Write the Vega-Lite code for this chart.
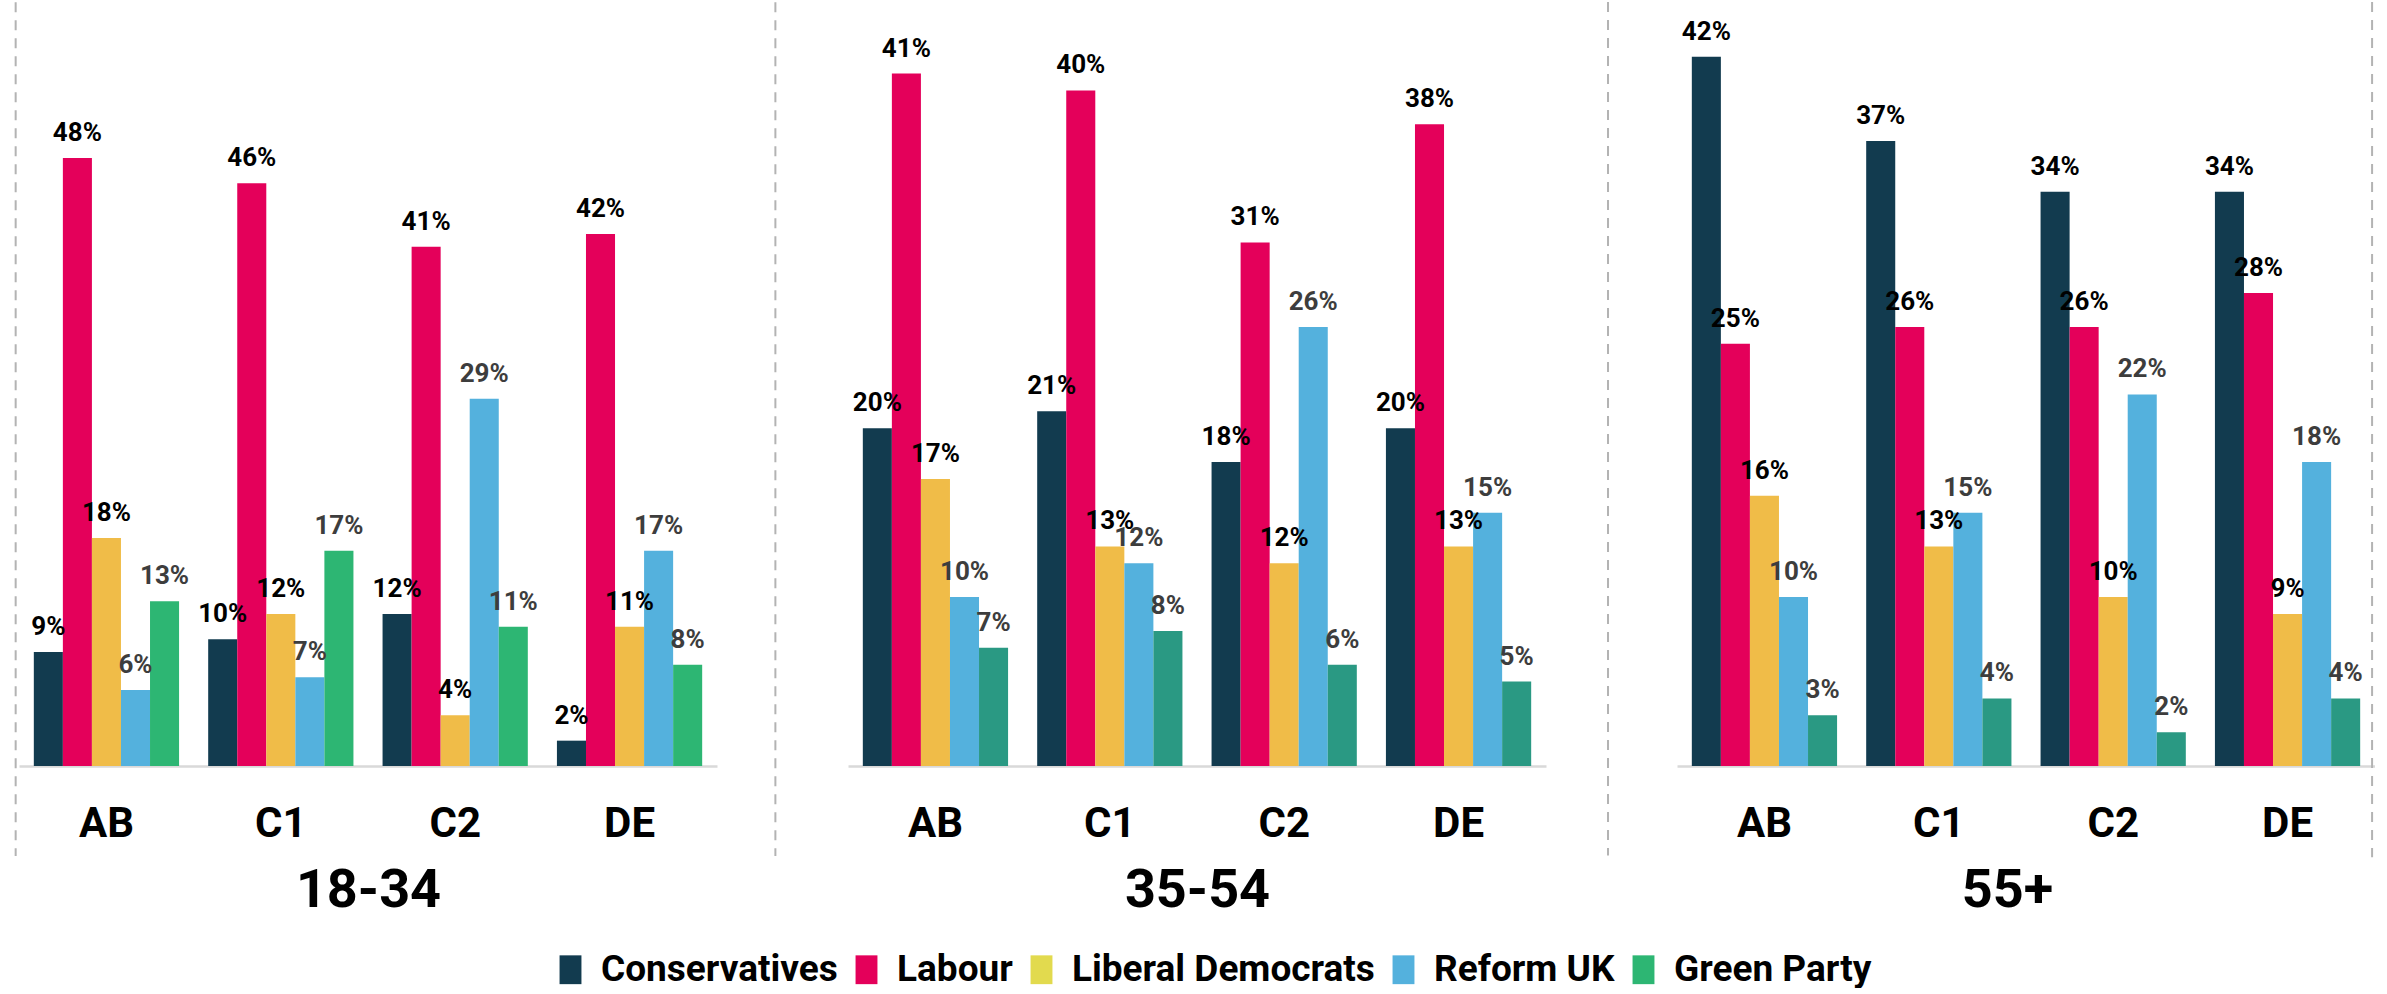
{
  "$schema": "https://vega.github.io/schema/vega-lite/v6.json",
  "background": "white",
  "padding": {"left": 14, "top": 0, "right": 0, "bottom": 0},
  "bounds": "flush",
  "datasets": {
    "polls": [
      {"Age": "18-34", "Class": "AB", "Party": "Conservatives", "Share": 0.09},
      {"Age": "18-34", "Class": "AB", "Party": "Labour", "Share": 0.48},
      {"Age": "18-34", "Class": "AB", "Party": "Liberal Democrats", "Share": 0.18},
      {"Age": "18-34", "Class": "AB", "Party": "Reform UK", "Share": 0.06},
      {"Age": "18-34", "Class": "AB", "Party": "Green Party", "Share": 0.13},
      {"Age": "18-34", "Class": "C1", "Party": "Conservatives", "Share": 0.10},
      {"Age": "18-34", "Class": "C1", "Party": "Labour", "Share": 0.46},
      {"Age": "18-34", "Class": "C1", "Party": "Liberal Democrats", "Share": 0.12},
      {"Age": "18-34", "Class": "C1", "Party": "Reform UK", "Share": 0.07},
      {"Age": "18-34", "Class": "C1", "Party": "Green Party", "Share": 0.17},
      {"Age": "18-34", "Class": "C2", "Party": "Conservatives", "Share": 0.12},
      {"Age": "18-34", "Class": "C2", "Party": "Labour", "Share": 0.41},
      {"Age": "18-34", "Class": "C2", "Party": "Liberal Democrats", "Share": 0.04},
      {"Age": "18-34", "Class": "C2", "Party": "Reform UK", "Share": 0.29},
      {"Age": "18-34", "Class": "C2", "Party": "Green Party", "Share": 0.11},
      {"Age": "18-34", "Class": "DE", "Party": "Conservatives", "Share": 0.02},
      {"Age": "18-34", "Class": "DE", "Party": "Labour", "Share": 0.42},
      {"Age": "18-34", "Class": "DE", "Party": "Liberal Democrats", "Share": 0.11},
      {"Age": "18-34", "Class": "DE", "Party": "Reform UK", "Share": 0.17},
      {"Age": "18-34", "Class": "DE", "Party": "Green Party", "Share": 0.08},
      {"Age": "35-54", "Class": "AB", "Party": "Conservatives", "Share": 0.20},
      {"Age": "35-54", "Class": "AB", "Party": "Labour", "Share": 0.41},
      {"Age": "35-54", "Class": "AB", "Party": "Liberal Democrats", "Share": 0.17},
      {"Age": "35-54", "Class": "AB", "Party": "Reform UK", "Share": 0.10},
      {"Age": "35-54", "Class": "AB", "Party": "Green Party", "Share": 0.07},
      {"Age": "35-54", "Class": "C1", "Party": "Conservatives", "Share": 0.21},
      {"Age": "35-54", "Class": "C1", "Party": "Labour", "Share": 0.40},
      {"Age": "35-54", "Class": "C1", "Party": "Liberal Democrats", "Share": 0.13},
      {"Age": "35-54", "Class": "C1", "Party": "Reform UK", "Share": 0.12},
      {"Age": "35-54", "Class": "C1", "Party": "Green Party", "Share": 0.08},
      {"Age": "35-54", "Class": "C2", "Party": "Conservatives", "Share": 0.18},
      {"Age": "35-54", "Class": "C2", "Party": "Labour", "Share": 0.31},
      {"Age": "35-54", "Class": "C2", "Party": "Liberal Democrats", "Share": 0.12},
      {"Age": "35-54", "Class": "C2", "Party": "Reform UK", "Share": 0.26},
      {"Age": "35-54", "Class": "C2", "Party": "Green Party", "Share": 0.06},
      {"Age": "35-54", "Class": "DE", "Party": "Conservatives", "Share": 0.20},
      {"Age": "35-54", "Class": "DE", "Party": "Labour", "Share": 0.38},
      {"Age": "35-54", "Class": "DE", "Party": "Liberal Democrats", "Share": 0.13},
      {"Age": "35-54", "Class": "DE", "Party": "Reform UK", "Share": 0.15},
      {"Age": "35-54", "Class": "DE", "Party": "Green Party", "Share": 0.05},
      {"Age": "55+", "Class": "AB", "Party": "Conservatives", "Share": 0.42},
      {"Age": "55+", "Class": "AB", "Party": "Labour", "Share": 0.25},
      {"Age": "55+", "Class": "AB", "Party": "Liberal Democrats", "Share": 0.16},
      {"Age": "55+", "Class": "AB", "Party": "Reform UK", "Share": 0.10},
      {"Age": "55+", "Class": "AB", "Party": "Green Party", "Share": 0.03},
      {"Age": "55+", "Class": "C1", "Party": "Conservatives", "Share": 0.37},
      {"Age": "55+", "Class": "C1", "Party": "Labour", "Share": 0.26},
      {"Age": "55+", "Class": "C1", "Party": "Liberal Democrats", "Share": 0.13},
      {"Age": "55+", "Class": "C1", "Party": "Reform UK", "Share": 0.15},
      {"Age": "55+", "Class": "C1", "Party": "Green Party", "Share": 0.04},
      {"Age": "55+", "Class": "C2", "Party": "Conservatives", "Share": 0.34},
      {"Age": "55+", "Class": "C2", "Party": "Labour", "Share": 0.26},
      {"Age": "55+", "Class": "C2", "Party": "Liberal Democrats", "Share": 0.10},
      {"Age": "55+", "Class": "C2", "Party": "Reform UK", "Share": 0.22},
      {"Age": "55+", "Class": "C2", "Party": "Green Party", "Share": 0.02},
      {"Age": "55+", "Class": "DE", "Party": "Conservatives", "Share": 0.34},
      {"Age": "55+", "Class": "DE", "Party": "Labour", "Share": 0.28},
      {"Age": "55+", "Class": "DE", "Party": "Liberal Democrats", "Share": 0.09},
      {"Age": "55+", "Class": "DE", "Party": "Reform UK", "Share": 0.18},
      {"Age": "55+", "Class": "DE", "Party": "Green Party", "Share": 0.04}
    ],
    "edges": [{"separator": 1}]
  },
  "data": {"name": "polls"},
  "spacing": 131,
  "hconcat": [
    {
      "width": 698,
      "height": 760,
      "transform": [{"filter": "datum.Age === '18-34'"}],
      "encoding": {
        "x": {"field": "Class", "type": "nominal", "sort": ["AB", "C1", "C2", "DE"], "title": "18-34",
              "scale": {"paddingInner": 0.167, "paddingOuter": 0.085}}
      },
      "layer": [
        {
          "mark": {"type": "bar"},
          "encoding": {
            "xOffset": {"field": "Party", "type": "nominal", "sort": ["Conservatives", "Labour", "Liberal Democrats", "Reform UK", "Green Party"], "scale": {"paddingInner": 0, "paddingOuter": 0}},
            "y": {"field": "Share", "type": "quantitative", "scale": {"domain": [0, 0.6], "nice": false}, "axis": null},
            "fill": {"field": "Party", "type": "nominal", "legend": null,
                     "scale": {"domain": ["Conservatives", "Labour", "Liberal Democrats", "Reform UK", "Green Party"],
                               "range": ["#123b4f", "#e4005a", "#f0bc48", "#54b1dd", "#2db673"]}}
          }
        },
        {
          "mark": {"type": "text", "font": "Roboto", "fontSize": 26, "fontWeight": "bold", "baseline": "alphabetic", "dy": -17},
          "encoding": {
            "xOffset": {"field": "Party", "type": "nominal", "sort": ["Conservatives", "Labour", "Liberal Democrats", "Reform UK", "Green Party"], "scale": {"paddingInner": 0, "paddingOuter": 0}},
            "y": {"field": "Share", "type": "quantitative"},
            "text": {"field": "Share", "type": "quantitative", "format": ".0%"},
            "color": {"condition": {"test": "datum.Party === 'Reform UK' || datum.Party === 'Green Party'", "value": "#3d3d3d"}, "value": "#000000"}
          }
        },
        {
          "mark": {"type": "point", "filled": true, "size": 0, "strokeWidth": 0},
          "encoding": {
            "color": {"field": "Party", "type": "nominal",
                      "scale": {"domain": ["Conservatives", "Labour", "Liberal Democrats", "Reform UK", "Green Party"],
                                "range": ["#123b4f", "#e4005a", "#e2da4e", "#54b1dd", "#2db673"]},
                      "legend": {"orient": "none", "legendX": 533, "legendY": 945, "direction": "horizontal", "columns": 5,
                                 "title": null, "symbolType": "M-0.76,-1H0.76V1H-0.76Z", "symbolSize": 830,
                                 "symbolOpacity": 1, "symbolStrokeWidth": 0, "labelFont": "Roboto", "labelFontSize": 37,
                                 "labelFontWeight": "bold", "labelColor": "#000000", "labelOffset": 12, "labelLimit": 500,
                                 "columnPadding": 10, "padding": 0}}
          }
        },
        {
          "data": {"name": "edges"},
          "mark": {"type": "rule", "strokeDash": [10, 8], "color": "#b3b3b3", "strokeWidth": 2},
          "encoding": {
            "x": {"datum": "AB", "type": "nominal", "bandPosition": -0.125},
            "y": {"datum": 0.603, "type": "quantitative"},
            "y2": {"datum": -0.071}
          }
        },
        {
          "data": {"name": "edges"},
          "mark": {"type": "rule", "strokeDash": [10, 8], "color": "#b3b3b3", "strokeWidth": 2},
          "encoding": {
            "x": {"datum": "DE", "type": "nominal", "bandPosition": 1.504},
            "y": {"datum": 0.603, "type": "quantitative"},
            "y2": {"datum": -0.071}
          }
        }
      ]
    },
    {
      "width": 698,
      "height": 760,
      "transform": [{"filter": "datum.Age === '35-54'"}],
      "encoding": {
        "x": {"field": "Class", "type": "nominal", "sort": ["AB", "C1", "C2", "DE"], "title": "35-54",
              "scale": {"paddingInner": 0.167, "paddingOuter": 0.085}}
      },
      "layer": [
        {
          "mark": {"type": "bar"},
          "encoding": {
            "xOffset": {"field": "Party", "type": "nominal", "sort": ["Conservatives", "Labour", "Liberal Democrats", "Reform UK", "Green Party"], "scale": {"paddingInner": 0, "paddingOuter": 0}},
            "y": {"field": "Share", "type": "quantitative", "scale": {"domain": [0, 0.45], "nice": false}, "axis": null},
            "fill": {"field": "Party", "type": "nominal", "legend": null,
                     "scale": {"domain": ["Conservatives", "Labour", "Liberal Democrats", "Reform UK", "Green Party"],
                               "range": ["#123b4f", "#e4005a", "#f0bc48", "#54b1dd", "#2a9983"]}}
          }
        },
        {
          "mark": {"type": "text", "font": "Roboto", "fontSize": 26, "fontWeight": "bold", "baseline": "alphabetic", "dy": -17},
          "encoding": {
            "xOffset": {"field": "Party", "type": "nominal", "sort": ["Conservatives", "Labour", "Liberal Democrats", "Reform UK", "Green Party"], "scale": {"paddingInner": 0, "paddingOuter": 0}},
            "y": {"field": "Share", "type": "quantitative"},
            "text": {"field": "Share", "type": "quantitative", "format": ".0%"},
            "color": {"condition": {"test": "datum.Party === 'Reform UK' || datum.Party === 'Green Party'", "value": "#3d3d3d"}, "value": "#000000"}
          }
        },
        {
          "data": {"name": "edges"},
          "mark": {"type": "rule", "strokeDash": [10, 8], "color": "#b3b3b3", "strokeWidth": 2},
          "encoding": {
            "x": {"datum": "DE", "type": "nominal", "bandPosition": 1.529},
            "y": {"datum": 0.4524, "type": "quantitative"},
            "y2": {"datum": -0.053}
          }
        }
      ]
    },
    {
      "width": 698,
      "height": 760,
      "transform": [{"filter": "datum.Age === '55+'"}],
      "encoding": {
        "x": {"field": "Class", "type": "nominal", "sort": ["AB", "C1", "C2", "DE"], "title": "55+",
              "scale": {"paddingInner": 0.167, "paddingOuter": 0.085},
              "axis": {"titleX": 330}}
      },
      "layer": [
        {
          "mark": {"type": "bar"},
          "encoding": {
            "xOffset": {"field": "Party", "type": "nominal", "sort": ["Conservatives", "Labour", "Liberal Democrats", "Reform UK", "Green Party"], "scale": {"paddingInner": 0, "paddingOuter": 0}},
            "y": {"field": "Share", "type": "quantitative", "scale": {"domain": [0, 0.45], "nice": false}, "axis": null},
            "fill": {"field": "Party", "type": "nominal", "legend": null,
                     "scale": {"domain": ["Conservatives", "Labour", "Liberal Democrats", "Reform UK", "Green Party"],
                               "range": ["#123b4f", "#e4005a", "#f0bc48", "#54b1dd", "#2a9983"]}}
          }
        },
        {
          "mark": {"type": "text", "font": "Roboto", "fontSize": 26, "fontWeight": "bold", "baseline": "alphabetic", "dy": -17},
          "encoding": {
            "xOffset": {"field": "Party", "type": "nominal", "sort": ["Conservatives", "Labour", "Liberal Democrats", "Reform UK", "Green Party"], "scale": {"paddingInner": 0, "paddingOuter": 0}},
            "y": {"field": "Share", "type": "quantitative"},
            "text": {"field": "Share", "type": "quantitative", "format": ".0%"},
            "color": {"condition": {"test": "datum.Party === 'Reform UK' || datum.Party === 'Green Party'", "value": "#3d3d3d"}, "value": "#000000"}
          }
        },
        {
          "data": {"name": "edges"},
          "mark": {"type": "rule", "strokeDash": [10, 8], "color": "#b3b3b3", "strokeWidth": 2},
          "encoding": {
            "x": {"datum": "DE", "type": "nominal", "bandPosition": 1.082},
            "y": {"datum": 0.4524, "type": "quantitative"},
            "y2": {"datum": -0.054}
          }
        }
      ]
    }
  ],
  "resolve": {"scale": {"fill": "independent", "color": "shared"}},
  "config": {
    "view": {"stroke": null},
    "font": "Roboto",
    "axis": {
      "domainColor": "#d9d9d9", "domainWidth": 2.5, "ticks": false, "tickSize": 0, "grid": false,
      "labelFont": "Roboto", "labelFontSize": 42, "labelFontWeight": "bold", "labelColor": "#000000",
      "labelPadding": 37, "labelAngle": 0,
      "titleFont": "Roboto", "titleFontSize": 54, "titleFontWeight": "bold", "titleColor": "#000000", "titlePadding": 19
    }
  }
}
